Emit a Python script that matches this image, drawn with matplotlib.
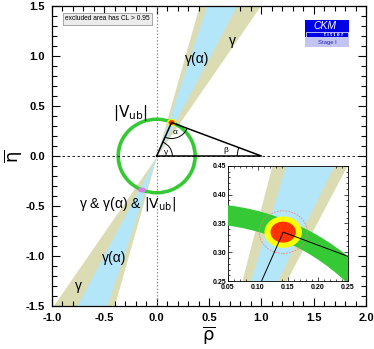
import numpy as np
import matplotlib
matplotlib.use('Agg')
import matplotlib.pyplot as plt
from matplotlib.patches import Wedge, Ellipse, Arc, Rectangle
from matplotlib.ticker import MultipleLocator

plt.rcParams['font.family'] = ['Liberation Sans', 'DejaVu Sans']
plt.rcParams['mathtext.fontset'] = 'dejavusans'

# apex of the unitarity triangle
rho_apex, eta_apex = 0.142, 0.335
# |Vub| ring (inner / outer radius)
vub_r = [0.350, 0.385]
# wedges through the origin, given as rho/eta ratios of the edges
gamma_ratio = [0.27, 0.66]
alpha_ratio = [0.318, 0.509]
# inset band edges: rho at eta=0.25 and eta=0.45
inset_eta = [0.25, 0.45]
gamma_lo = [0.073, 0.123]
gamma_hi = [0.147, 0.248]
alpha_lo = [0.087, 0.146]
alpha_hi = [0.132, 0.226]
# fit contours in inset (half widths)
cl_outer = [0.040, 0.037]
cl_yellow = [0.030, 0.026]
cl_red = [0.020, 0.017]
mirror_pt = (-0.14, -0.34)

tan = '#dcdcb4'
blue = '#b4e6fa'
green = '#36c936'

fig = plt.figure(figsize=(3.74, 3.49), dpi=100)
ax = fig.add_axes([52/374, 1-306/349, 314/374, 300/349])

eta = np.array([-1.5, 0.0, 1.5])
ax.fill_betweenx(eta, gamma_ratio[0]*eta, gamma_ratio[1]*eta, color=tan, lw=0, zorder=1)
ax.fill_betweenx(eta, alpha_ratio[0]*eta, alpha_ratio[1]*eta, color=blue, lw=0, zorder=2)
ax.add_patch(Wedge((0, 0), vub_r[1], 0, 360, width=vub_r[1]-vub_r[0], color=green, lw=0, zorder=3))

ax.axvline(0, color='gray', ls=':', lw=0.9, zorder=4)
ax.axhline(0, color='black', ls='--', lw=0.6, dashes=(3, 3), zorder=4)

# triangle
ax.plot([0, 1, rho_apex, 0], [0, 0, eta_apex, 0], color='black', lw=1.1, zorder=6)
ga = np.degrees(np.arctan2(eta_apex, rho_apex))
be = np.degrees(np.arctan2(eta_apex, rho_apex-1))
ax.add_patch(Arc((0, 0), 0.3, 0.3, theta1=0, theta2=ga, lw=0.7, zorder=6))
ax.add_patch(Arc((rho_apex, eta_apex), 0.32, 0.32, theta1=ga+180, theta2=be+180, lw=0.7, zorder=6))
ax.add_patch(Arc((1, 0), 0.46, 0.46, theta1=be, theta2=180, lw=0.7, zorder=6))
ax.text(0.09, 0.04, 'γ', fontsize=6, ha='center', va='center', zorder=7)
ax.text(0.18, 0.24, 'α', fontsize=6, ha='center', va='center', zorder=7)
ax.text(0.66, 0.05, 'β', fontsize=6, ha='center', va='center', zorder=7)

ax.add_patch(Ellipse((rho_apex, eta_apex), 0.07, 0.06, color='#ffff00', zorder=5))
ax.add_patch(Ellipse((rho_apex, eta_apex), 0.045, 0.035, color='#ff3300', zorder=5))
ax.add_patch(Ellipse(mirror_pt, 0.06, 0.035, color='#d77ee8', zorder=5))

lab = dict(ha='center', va='center', fontsize=10, zorder=7)
ax.text(0.39, 0.97, 'γ(α)', **lab)
ax.text(0.72, 1.15, 'γ', **lab)
ax.text(-0.25, 0.43, r'$|\mathrm{V}_{\mathrm{ub}}|$', ha='center', va='center', fontsize=11, zorder=7)
ax.text(-0.28, -0.48, r'γ & γ(α) & $|\mathrm{V}_{\mathrm{ub}}|$', ha='center', va='center', fontsize=10, zorder=7)
ax.text(-0.41, -1.02, 'γ(α)', **lab)
ax.text(-0.75, -1.3, 'γ', **lab)

ax.text(-0.47, 1.37, 'excluded area has CL > 0.95', fontsize=4.8, ha='center', va='center', zorder=8,
        bbox=dict(boxstyle='square,pad=0.35', fc='#ececec', ec='#9a9a9a', lw=0.6))

ax.set_xlim(-1, 2)
ax.set_ylim(-1.5, 1.5)
ax.xaxis.set_major_locator(MultipleLocator(0.5))
ax.xaxis.set_minor_locator(MultipleLocator(0.1))
ax.yaxis.set_major_locator(MultipleLocator(0.5))
ax.yaxis.set_minor_locator(MultipleLocator(0.1))
ax.tick_params(which='both', direction='in', top=True, right=True, width=0.8)
ax.tick_params(which='major', length=6, labelsize=8, pad=5)
ax.tick_params(which='minor', length=3.5)
for t in ax.get_xticklabels() + ax.get_yticklabels():
    t.set_fontweight('bold')
ax.xaxis.set_major_formatter(matplotlib.ticker.FormatStrFormatter('%.1f'))
ax.yaxis.set_major_formatter(matplotlib.ticker.FormatStrFormatter('%.1f'))
for s in ax.spines.values():
    s.set_linewidth(0.9)
ax.set_xlabel(r'$\overline{\mathrm{\rho}}$', fontsize=13, labelpad=1)
ax.set_ylabel(r'$\overline{\mathrm{\eta}}$', fontsize=13, labelpad=1)

# inset
ins = fig.add_axes([228/374, 1-281/349, 120/374, 115/349])
ins.fill_betweenx(inset_eta, gamma_lo, gamma_hi, color=tan, lw=0, zorder=1)
ins.fill_betweenx(inset_eta, alpha_lo, alpha_hi, color=blue, lw=0, zorder=2)
ins.add_patch(Wedge((0, 0), vub_r[1], 0, 360, width=vub_r[1]-vub_r[0], color=green, lw=0, zorder=3))
ins.add_patch(Ellipse((rho_apex, eta_apex), 2*cl_yellow[0], 2*cl_yellow[1], color='#ffff00', zorder=4))
ins.add_patch(Ellipse((rho_apex, eta_apex), 2*cl_red[0], 2*cl_red[1], color='#ff3300', zorder=5))
ins.add_patch(Ellipse((rho_apex, eta_apex), 2*cl_outer[0], 2*cl_outer[1], fill=False, ec='#f08080',
                      lw=0.6, ls=(0, (2, 1.5)), zorder=5))
ins.plot([0, rho_apex, 1], [0, eta_apex, 0], color='black', lw=0.7, zorder=6)
ins.set_xlim(0.05, 0.25)
ins.set_ylim(0.25, 0.45)
ins.xaxis.set_major_locator(MultipleLocator(0.05))
ins.xaxis.set_minor_locator(MultipleLocator(0.01))
ins.yaxis.set_major_locator(MultipleLocator(0.05))
ins.yaxis.set_minor_locator(MultipleLocator(0.01))
ins.xaxis.set_major_formatter(matplotlib.ticker.FormatStrFormatter('%.2f'))
ins.yaxis.set_major_formatter(matplotlib.ticker.FormatStrFormatter('%.2f'))
ins.tick_params(which='both', direction='in', top=True, right=True, width=0.5, labelsize=5)
ins.tick_params(axis='x', pad=2)
ins.tick_params(axis='y', pad=1)
ins.tick_params(which='major', length=3)
ins.tick_params(which='minor', length=1.5)
for t in ins.get_xticklabels() + ins.get_yticklabels():
    t.set_fontweight('bold')
for s in ins.spines.values():
    s.set_linewidth(0.6)

# CKMfitter logo
lg = fig.add_axes([305/374, 1-47/349, 44/374, 27/349])
lg.set_xlim(0, 1)
lg.set_ylim(0, 1)
lg.axis('off')
lg.add_patch(Rectangle((0, 0.36), 1, 0.64, fc='#0000e6', ec='none'))
lg.add_patch(Rectangle((0.03, 0.38), 0.94, 0.17, fc='none', ec='white', lw=0.5))
lg.add_patch(Rectangle((0, 0), 1, 0.36, fc='#c4c4f0', ec='none'))
lg.text(0.45, 0.79, 'CKM', color='white', fontsize=7.5, style='italic', ha='center', va='center')
lg.text(0.65, 0.465, 'f i t t e r', color='white', fontsize=3.8, fontweight='bold', ha='center', va='center')
lg.text(0.5, 0.17, 'Stage I', color='#2020c0', fontsize=4.2, ha='center', va='center')

fig.savefig('out.png', dpi=100)
